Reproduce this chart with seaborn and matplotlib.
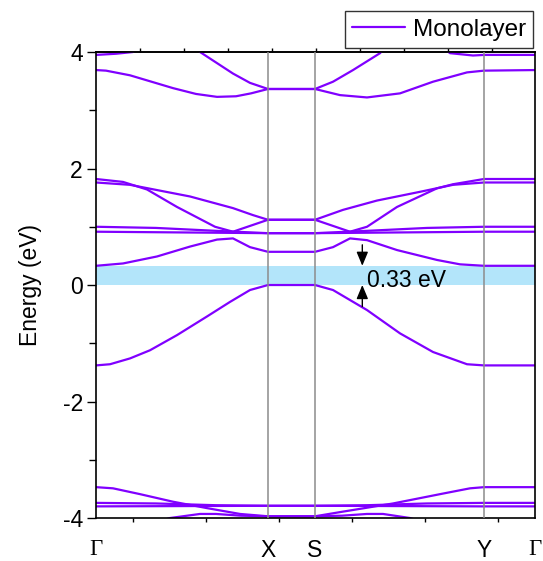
import numpy as np
import pandas as pd
import seaborn as sns
import matplotlib.pyplot as plt
from matplotlib.ticker import FixedLocator, NullFormatter

# High-symmetry path
kpath = [0.0, 1.72, 2.19, 3.88, 4.39]
kpath_labels = ["Γ", "X", "S", "Y", "Γ"]

# Band energies (eV) along the path, relative to the valence band maximum
k_top1a = [0.0, 0.20, 0.37, 0.55]
e_top1a = [3.95, 3.97, 4.00, 4.30]
k_top1b = [3.30, 3.54, 3.77, 3.88, 4.39]
e_top1b = [4.30, 3.98, 3.94, 3.95, 3.95]
k_top2 = [0.85, 1.04, 1.37, 1.54, 1.72, 2.19, 2.37, 2.57, 2.84, 3.00]
e_top2 = [4.30, 4.00, 3.63, 3.47, 3.365, 3.365, 3.49, 3.69, 3.98, 4.30]
k_top3 = [0.0, 0.10, 0.34, 0.77, 1.00, 1.21, 1.40, 1.55, 1.72, 2.19,
          2.44, 2.71, 3.04, 3.37, 3.71, 3.88, 4.39]
e_top3 = [3.69, 3.68, 3.60, 3.38, 3.28, 3.23, 3.24, 3.29, 3.365, 3.365,
          3.26, 3.22, 3.29, 3.49, 3.65, 3.68, 3.69]

k_cb3 = [0.0, 0.27, 0.51, 0.81, 1.19, 1.37, 1.72, 2.19, 2.54, 2.71,
         3.01, 3.41, 3.57, 3.88, 4.39]
e_cb3 = [1.82, 1.77, 1.64, 1.34, 1.00, 0.915, 1.12, 1.12, 0.915, 1.00,
         1.34, 1.66, 1.73, 1.82, 1.82]
k_cb4 = [0.0, 0.34, 0.94, 1.37, 1.57, 1.72, 2.19, 2.47, 2.81, 3.24,
         3.57, 3.88, 4.39]
e_cb4 = [1.76, 1.72, 1.52, 1.32, 1.20, 1.12, 1.12, 1.29, 1.45, 1.60,
         1.72, 1.76, 1.76]
k_cb2a = [0.0, 0.60, 1.20, 1.72, 2.19, 2.71, 3.31, 3.88, 4.39]
e_cb2a = [1.00, 0.98, 0.93, 0.89, 0.89, 0.93, 0.98, 1.00, 1.00]
k_cb2b = [0.0, 1.72, 2.19, 3.88, 4.39]
e_cb2b = [0.915, 0.89, 0.89, 0.915, 0.915]
k_cb1 = [0.0, 0.27, 0.61, 0.94, 1.21, 1.37, 1.54, 1.72, 2.19, 2.37,
         2.54, 2.71, 3.01, 3.41, 3.64, 3.88, 4.39]
e_cb1 = [0.33, 0.37, 0.49, 0.66, 0.78, 0.80, 0.65, 0.57, 0.57, 0.65,
         0.80, 0.77, 0.60, 0.43, 0.355, 0.33, 0.33]

k_vb1 = [0.0, 0.14, 0.34, 0.54, 0.81, 1.11, 1.34, 1.54, 1.72, 2.19,
         2.37, 2.71, 3.04, 3.37, 3.71, 3.88, 4.39]
e_vb1 = [-1.38, -1.36, -1.26, -1.12, -0.86, -0.54, -0.29, -0.086, 0.0, 0.0,
         -0.086, -0.43, -0.83, -1.15, -1.36, -1.38, -1.38]

k_vb2 = [0.0, 0.17, 0.44, 0.77, 1.11, 1.44, 1.72, 2.19, 2.47, 2.97,
         3.47, 3.74, 3.88, 4.39]
e_vb2 = [-3.47, -3.49, -3.59, -3.72, -3.83, -3.93, -3.97, -3.97, -3.89, -3.75,
         -3.58, -3.49, -3.47, -3.47]
k_vb3 = [0.0, 0.60, 1.20, 1.72, 2.19, 2.71, 3.31, 3.88, 4.39]
e_vb3 = [-3.74, -3.75, -3.78, -3.79, -3.79, -3.78, -3.75, -3.74, -3.74]
k_vb4 = [0.0, 1.72, 2.19, 3.88, 4.39]
e_vb4 = [-3.80, -3.79, -3.79, -3.80, -3.80]
k_vb5 = [0.55, 0.74, 1.04, 1.20, 1.45, 1.72, 2.19, 2.46, 2.71, 2.87, 3.14, 3.33]
e_vb5 = [-4.10, -4.00, -3.93, -3.93, -3.96, -3.97, -3.97, -3.96, -3.93, -3.93,
         -4.00, -4.10]

gap = 0.33

bands = {
    "top1a": (k_top1a, e_top1a), "top1b": (k_top1b, e_top1b),
    "top2": (k_top2, e_top2), "top3": (k_top3, e_top3),
    "cb3": (k_cb3, e_cb3), "cb4": (k_cb4, e_cb4),
    "cb2a": (k_cb2a, e_cb2a), "cb2b": (k_cb2b, e_cb2b), "cb1": (k_cb1, e_cb1),
    "vb1": (k_vb1, e_vb1), "vb2": (k_vb2, e_vb2), "vb3": (k_vb3, e_vb3),
    "vb4": (k_vb4, e_vb4), "vb5": (k_vb5, e_vb5),
}
frames = []
for name, (kk, ee) in bands.items():
    frames.append(pd.DataFrame({"k": kk, "E": ee, "band": name,
                                "system": "Monolayer"}))
df = pd.concat(frames, ignore_index=True)

sns.set_theme(style="ticks")
plt.rcParams["font.family"] = ["Liberation Sans", "DejaVu Sans"]
plt.rcParams["axes.edgecolor"] = "black"
plt.rcParams["xtick.color"] = "black"
plt.rcParams["ytick.color"] = "black"
plt.rcParams["text.color"] = "black"
plt.rcParams["axes.labelcolor"] = "black"

FS = 16.5
purple = "#8000ff"

fig = plt.figure(figsize=(5.43, 5.61), dpi=100)
ax = fig.add_axes([0.1768, 0.0766, 0.8085, 0.8307])

ax.axhspan(0, gap, color="#b3e5fa", lw=0, zorder=1)

sns.lineplot(data=df, x="k", y="E", units="band", estimator=None, sort=False,
             hue="system", palette={"Monolayer": purple}, lw=1.6,
             ax=ax, zorder=2)

for kv in kpath[1:-1]:
    ax.axvline(kv, color="#8c8c8c", lw=1.1, zorder=3)

ax.set_xlim(kpath[0], kpath[-1])
ax.set_ylim(-4, 4)

# x axis: path labels, plus small unlabeled ticks on bottom and top
ax.set_xticks(kpath)
ax.set_xticklabels(kpath_labels)
ax.xaxis.set_minor_locator(FixedLocator([0.37, 1.10, 1.83, 2.56, 3.29, 4.02]))
ax.tick_params(axis="x", which="major", length=0, pad=15, labelsize=FS)
ax.tick_params(axis="x", which="minor", length=3, width=1, direction="out")
for lab in ax.get_xticklabels():
    if lab.get_text() == "Γ":
        lab.set_fontfamily(["Liberation Serif", "DejaVu Serif"])

sec = ax.secondary_xaxis("top")
sec.set_xticks([0.44 * i for i in range(1, 10)])
sec.xaxis.set_major_formatter(NullFormatter())
sec.tick_params(length=3, width=1, direction="out")
sec.spines["top"].set_linewidth(1.2)

ax.set_yticks([-4, -2, 0, 2, 4])
ax.set_yticklabels(["-4", "-2", "0", "2", "4"])
ax.yaxis.set_minor_locator(FixedLocator([-3, -1, 1, 3]))
ax.tick_params(axis="y", which="major", length=6.5, width=1, direction="out",
               pad=3, labelsize=FS)
ax.tick_params(axis="y", which="minor", length=5, width=1, direction="out")

ax.set_xlabel("")
ax.set_ylabel("Energy (eV)", fontsize=FS, labelpad=15)

for sp in ax.spines.values():
    sp.set_visible(True)
    sp.set_linewidth(1.2)
    sp.set_color("black")

# band gap marker
k_arrow = 2.663
arrow_style = dict(arrowstyle="-|>,head_length=0.6,head_width=0.25",
                   color="black", lw=1, mutation_scale=14,
                   shrinkA=0, shrinkB=0)
ax.annotate("", xy=(k_arrow, gap), xytext=(k_arrow, 0.69),
            arrowprops=arrow_style, zorder=5)
ax.annotate("", xy=(k_arrow, 0.0), xytext=(k_arrow, -0.37),
            arrowprops=arrow_style, zorder=5)
ax.text(2.707, -0.03, f"{gap:.2f} eV", fontsize=FS, ha="left", va="baseline",
        zorder=5)

handles, labels = ax.get_legend_handles_labels()
ax.legend(handles[-1:], labels[-1:], loc="lower right",
          bbox_to_anchor=(0.9816, 0.9144), bbox_transform=fig.transFigure,
          borderaxespad=0, frameon=True, fancybox=False, framealpha=1,
          edgecolor="#333333", fontsize=17.5, handlelength=2.2,
          handletextpad=0.3, borderpad=0.3)
ax.get_legend().get_frame().set_linewidth(1.0)

fig.savefig("out.png", dpi=100)
